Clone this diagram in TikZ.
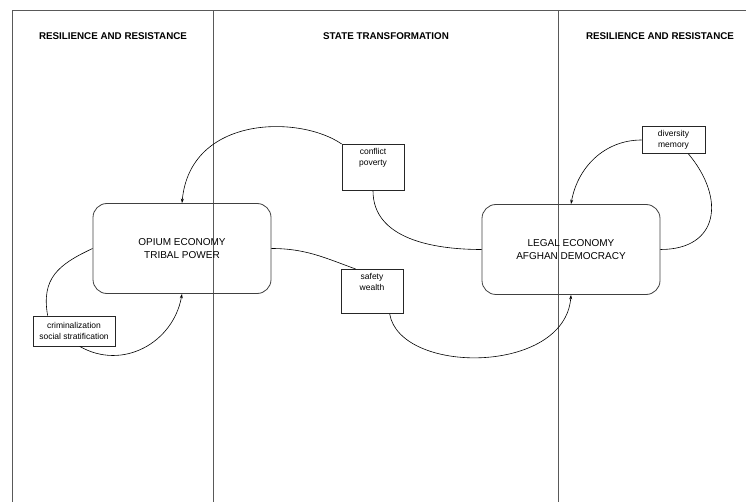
\documentclass[tikz,border=0pt]{standalone}
\usepackage{fontspec}
\setmainfont{Liberation Sans}
\usetikzlibrary{arrows.meta}

\begin{document}
\begin{tikzpicture}[x=1pt,y=1pt,
  head/.style={font=\bfseries\fontsize{9.8}{11}\selectfont},
  bigbox/.style={draw=black!75, line width=0.8pt, rounded corners=14pt, minimum width=178pt, minimum height=90pt, align=center, font=\fontsize{10}{12.5}\selectfont},
  tagbox/.style={draw=black!85, line width=0.7pt, align=center, inner xsep=2.5pt, inner ysep=4pt, font=\fontsize{8.5}{11}\selectfont},
  link/.style={line width=0.6pt},
  >={Stealth[length=4.5pt,width=3pt]}]
\useasboundingbox (0,0) rectangle (746,-502);

% columns
\draw[black!65, line width=1pt] (12,-502) -- (12,-11) -- (746,-11);
\draw[black!65, line width=1pt] (213,-11) -- (213,-502);
\draw[black!65, line width=1pt] (558,-11) -- (558,-502);

\node[head] (h1) at (113,-36) {RESILIENCE AND RESISTANCE};
\node[head] (h2) at (386,-36) {STATE TRANSFORMATION};
\node[head] (h3) at (660,-36) {RESILIENCE AND RESISTANCE};

\node[bigbox] (op) at (182,-248.5) {OPIUM ECONOMY\\TRIBAL POWER};
\node[bigbox] (le) at (571,-249.5) {LEGAL ECONOMY\\AFGHAN DEMOCRACY};

\node[tagbox, minimum width=82pt, minimum height=30pt] (cr) at (74,-331) {criminalization\\social stratification};
\node[tagbox, minimum width=62pt, text depth=21pt, anchor=north] (cp) at (373,-144) {conflict\\poverty};
\node[tagbox, minimum width=62pt, text depth=19pt, anchor=north] (sw) at (372,-269) {safety\\wealth};
\node[tagbox, minimum width=63pt, minimum height=26pt] (dv) at (673.5,-140) {diversity\\memory};

\draw[link,->] (cp.north west) .. controls (300,-115) and (190,-115) .. (op.north);
\draw[link] (op.east) to[out=0,in=160] ([xshift=15pt]sw.north west);
\draw[link,->] ([xshift=49pt]sw.south west) .. controls (400,-375) and (565,-375) .. (le.south);
\draw[link] (cp.south) to[out=-90,in=180] (le.west);
\draw[link,->] (dv.west) to[out=180,in=80] (le.north);
\draw[link] ([xshift=-17pt]dv.south east) to[out=-50,in=0,looseness=1.5] (le.east);
\draw[link] (op.west) to[out=205,in=100,looseness=1.2] ([xshift=15pt]cr.north west);
\draw[link,->] ([xshift=47pt]cr.south west) to[out=-30,in=-100,looseness=1.1] (op.south);
\end{tikzpicture}
\end{document}
